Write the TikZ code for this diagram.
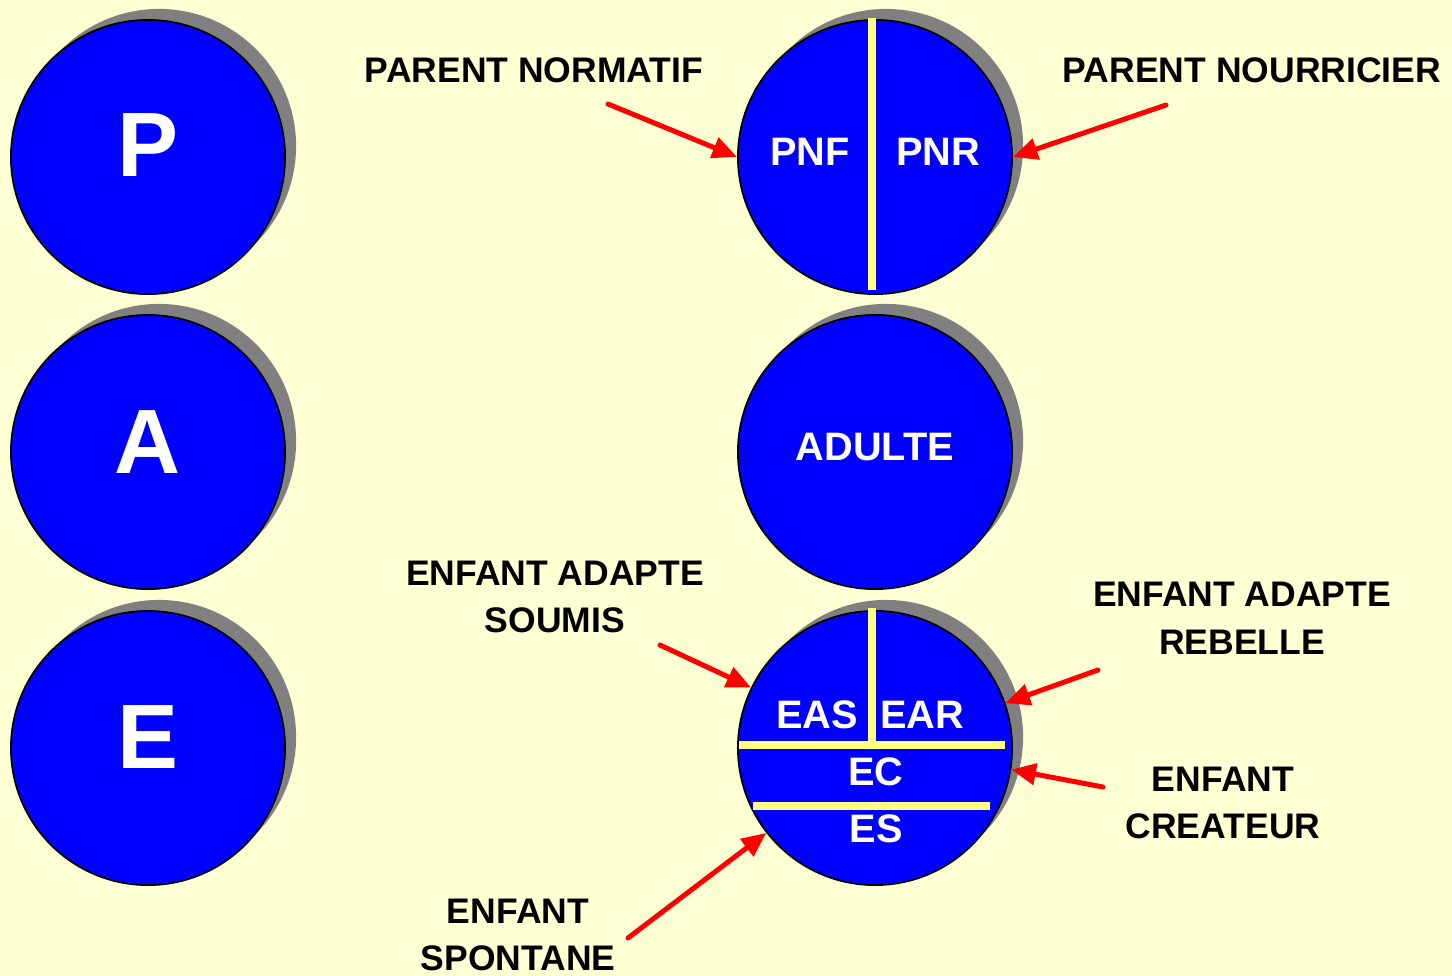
\documentclass[tikz,border=0pt]{standalone}
\usepackage{fontspec}
\setmainfont{Liberation Sans}
\usetikzlibrary{arrows.meta,shadows}
\definecolor{fond}{RGB}{255,255,212}
\definecolor{bleu}{RGB}{0,0,255}
\definecolor{jaune}{RGB}{255,255,128}
\definecolor{ombre}{RGB}{128,128,128}
\begin{document}
\begin{tikzpicture}[x=0.01cm, y=-0.01cm, line join=round, line cap=round, >={Triangle[length=7pt,width=6pt]}, font=\bfseries,
	etat/.style={circle, draw=black, line width=0.5pt, fill=bleu, minimum size=2.74cm, inner sep=0pt,
		drop shadow={shadow xshift=0.11cm, shadow yshift=0.11cm, fill=ombre, opacity=1}},
	lettre/.style={text=white, font=\fontsize{26}{30}\selectfont\bfseries},
	sigle/.style={text=white, font=\fontsize{11.3}{13}\selectfont\bfseries},
	etiq/.style={align=center, font=\fontsize{10.1}{13.6}\selectfont\bfseries},
	sep/.style={jaune, line width=0.08cm, line cap=butt},
	fleche/.style={->, red, line width=0.05cm}]
	\useasboundingbox (0,0) rectangle (1452,975);
	\fill[fond] (0,0) rectangle (1452,975);
	% colonne de gauche
	\node[etat] (p) at (148,157) {};
	\node[etat] (a) at (148,452) {};
	\node[etat] (e) at (148,748) {};
	\node[lettre] (lp) at (148,145) {P};
	\node[lettre] (la) at (148,442) {A};
	\node[lettre] (le) at (148,737) {E};
	% colonne de droite
	\node[etat] (pp) at (875,157) {};
	\node[etat] (aa) at (875,452) {};
	\node[etat] (ee) at (875,748) {};
	\draw[sep] (872,18) -- (872,290);
	\draw[sep] (872,608) -- (872,745) (739,745) -- (1005,745) (753,806) -- (990,806);
	\node[sigle] (pnf) at (810,152) {PNF};
	\node[sigle] (pnr) at (938,152) {PNR};
	\node[sigle] (adulte) at (875,447) {ADULTE};
	\node[sigle] (eas) at (817,715) {EAS};
	\node[sigle] (ear) at (922,715) {EAR};
	\node[sigle] (ec) at (876,772) {EC};
	\node[sigle] (es) at (876,829) {ES};
	% etiquettes
	\node[etiq] (lpnf) at (534,70) {PARENT NORMATIF};
	\node[etiq] (lpnr) at (1252,70) {PARENT NOURRICIER};
	\node[etiq] (leas) at (555,597) {ENFANT ADAPTE\\SOUMIS};
	\node[etiq] (lear) at (1242,618) {ENFANT ADAPTE\\REBELLE};
	\node[etiq] (lec) at (1223,803) {ENFANT\\CREATEUR};
	\node[etiq] (les) at (518,935) {ENFANT\\SPONTANE};
	\coordinate (dpnf) at (608,104);
	\coordinate (dpnr) at (1166,105);
	\coordinate (deas) at (660,645);
	\coordinate (dear) at (1098,670);
	\coordinate (dec) at (1103,787);
	\coordinate (des) at (628,938);
	\draw[fleche] (dpnf) -- (pp.180);
	\draw[fleche] (dpnr) -- (pp.0);
	\draw[fleche] (deas) -- (ee.154);
	\draw[fleche] (dear) -- (ee.19);
	\draw[fleche] (dec) -- (ee.-9);
	\draw[fleche] (des) -- (ee.218);
\end{tikzpicture}
\end{document}
